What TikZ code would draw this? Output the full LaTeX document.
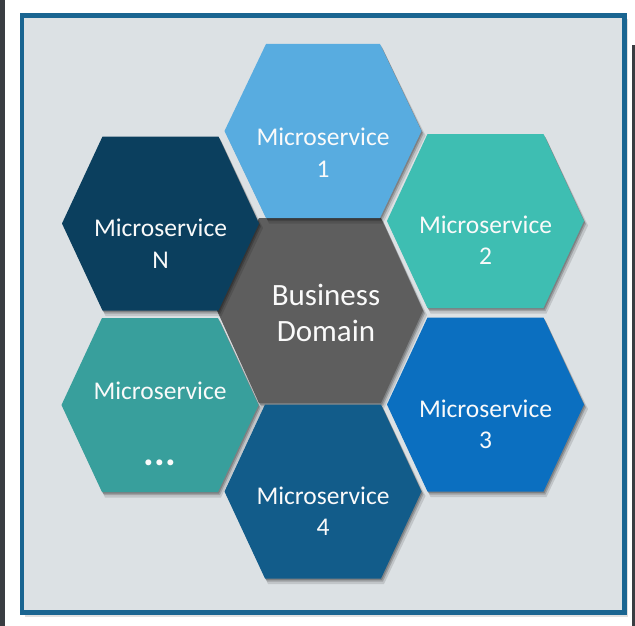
\documentclass[tikz,border=0pt]{standalone}
\usepackage{fontspec}
\setmainfont{Carlito}
\definecolor{bgpanel}{HTML}{DCE1E4}
\definecolor{framec}{HTML}{1A6591}
\definecolor{cMSone}{HTML}{58ACE0}
\definecolor{cMStwo}{HTML}{3EBEB2}
\definecolor{cMSthree}{HTML}{0B6FC0}
\definecolor{cMSfour}{HTML}{125C8A}
\definecolor{cMSdots}{HTML}{389F9C}
\definecolor{cMSn}{HTML}{0B3F5E}
\definecolor{cCenter}{HTML}{5E5E5E}
\definecolor{edgestrip}{HTML}{3A3D42}
\newcommand\hexpath[5]{(#1-#3,#2) -- (#1-#5,#2-#4) -- (#1+#5,#2-#4) -- (#1+#3,#2) -- (#1+#5,#2+#4) -- (#1-#5,#2+#4) -- cycle}
\newcommand\drawhexagon[7]{%
  \fill[hexshadow,opacity=0.12] \hexpath{#2+3}{#3+4.5}{#4+1}{#5+1}{#6};
  \fill[hexshadow,opacity=0.18] \hexpath{#2+2}{#3+3}{#4}{#5}{#6};
  \fill[hexshadow,opacity=0.2] \hexpath{#2+1}{#3+1.5}{#4}{#5}{#6};
  \fill[#7] \hexpath{#2}{#3}{#4}{#5}{#6};
  \coordinate (#1) at (#2,#3);}
\tikzset{
  hexshadow/.style={black},
  lbl/.style={text=white!96!gray,font=\fontsize{25.5}{30}\selectfont,inner sep=0pt,anchor=base},
  biglbl/.style={text=white!96!gray,font=\fontsize{31}{36}\selectfont,inner sep=0pt,anchor=base},
}
\begin{document}
\begin{tikzpicture}[x=1pt,y=-1pt]
\useasboundingbox (0,0) rectangle (635,626);
\fill[white] (0,0) rectangle (635,626);
\fill[edgestrip] (0,0) rectangle (4.5,626);
\fill[edgestrip] (631.5,45) rectangle (635,626);
% panel
\fill[black,opacity=0.12] (25,19) rectangle (628,617);
\fill[black,opacity=0.15] (23.5,17) rectangle (626.5,615);
\path[fill=bgpanel,draw=framec,line width=4.5pt] (22,15.5) rectangle (624.5,612.5);
% hexagons
\drawhexagon{hc}{320}{310.5}{103}{92.5}{61}{cCenter}
\drawhexagon{h1}{323}{131}{98.5}{87}{57}{cMSone}
\drawhexagon{h2}{485.5}{221}{98.5}{87}{58}{cMStwo}
\drawhexagon{h3}{485.5}{404.5}{98.5}{87}{58}{cMSthree}
\drawhexagon{h4}{323}{491.5}{98.5}{87}{58}{cMSfour}
\drawhexagon{hd}{160}{405}{98.5}{87}{58}{cMSdots}
\drawhexagon{hn}{160.5}{223.5}{98.5}{87}{58}{cMSn}
% labels
\node[biglbl] (tca) at (326,305) {Business};
\node[biglbl] (tcb) at (326,341.5) {Domain};
\node[lbl] (t1a) at (323,146) {Microservice};
\node[lbl] (t1b) at (323,177.5) {1};
\node[lbl] (t2a) at (485.5,233.5) {Microservice};
\node[lbl] (t2b) at (485.5,264.5) {2};
\node[lbl] (t3a) at (485.5,417) {Microservice};
\node[lbl] (t3b) at (485.5,448.5) {3};
\node[lbl] (t4a) at (323,504) {Microservice};
\node[lbl] (t4b) at (323,535.5) {4};
\node[lbl] (tna) at (160.5,236) {Microservice};
\node[lbl] (tnb) at (160.5,268) {N};
\node[lbl] (tda) at (160,399.5) {Microservice};
\node[lbl,font=\fontsize{40}{40}\selectfont\bfseries] (tdb) at (160,465) {...};
\end{tikzpicture}
\end{document}
